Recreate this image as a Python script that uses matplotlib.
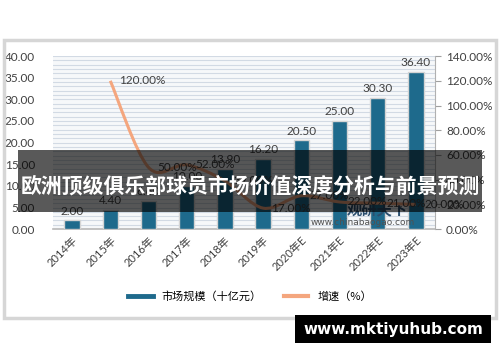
import matplotlib
matplotlib.use("Agg")
import matplotlib.pyplot as plt
import numpy as np
from matplotlib.lines import Line2D
from matplotlib.patches import PathPatch, Rectangle
from matplotlib.path import Path
from matplotlib.ticker import FuncFormatter, MultipleLocator

years = ["2014年", "2015年", "2016年", "2017年", "2018年", "2019年",
         "2020年E", "2021年E", "2022年E", "2023年E"]
market_size = [2.00, 4.40, 6.60, 10.00, 13.90, 16.20, 20.50, 25.00, 30.30, 36.40]
growth_years = years[1:]
growth_pct = [120.0, 50.0, 52.0, 39.0, 17.0, 27.0, 22.0, 21.0, 20.0]

title = "欧洲顶级俱乐部球员市场价值深度分析与前景预测"
site = "www.mktiyuhub.com"
legend_labels = ["市场规模（十亿元）", "增速（%）"]

BAR = "#1e6a8c"
LINE = "#f4a67e"
TXT = "#404040"
NUM_FONT = ["Lato", "Noto Sans CJK SC"]

plt.rcParams["font.family"] = NUM_FONT


def _smooth_path(xs, ys):
    """Excel-style smoothed line as cubic Bezier segments through the points."""
    pts = np.column_stack([xs, ys]).astype(float)
    verts = [pts[0]]
    codes = [Path.MOVETO]
    n = len(pts)
    for i in range(n - 1):
        p0 = pts[i - 1] if i > 0 else pts[i]
        p1, p2 = pts[i], pts[i + 1]
        p3 = pts[i + 2] if i + 2 < n else pts[i + 1]
        verts += [p1 + (p2 - p0) / 6.0, p2 - (p3 - p1) / 6.0, p2]
        codes += [Path.CURVE4] * 3
    return Path(verts, codes)


fig = plt.figure(figsize=(5.0, 3.62), dpi=100)
fig.patch.set_facecolor("white")

# outer grey panel
fig.patches.append(Rectangle((0.008, 0.122), 0.984, 0.768, transform=fig.transFigure,
                             fill=False, edgecolor="#d6d6d6", linewidth=2.5, zorder=0))

ax = fig.add_axes([0.106, 0.367, 0.764, 0.478])
ax.set_facecolor("#f6f8fa")
x = np.arange(len(years))
ax.bar(x, market_size, width=0.4, color=BAR, edgecolor="#d4d4d4",
       linewidth=1.0, zorder=3)
for xi, v in zip(x, market_size):
    ax.text(xi, v + 0.9, f"{v:.2f}", ha="center", va="bottom", fontsize=8.5,
            color=TXT, zorder=5)

ax.set_xlim(-0.5, len(years) - 0.5)
ax.set_ylim(0, 40)
ax.yaxis.set_major_locator(MultipleLocator(5))
ax.yaxis.set_minor_locator(MultipleLocator(1))
ax.yaxis.set_major_formatter(FuncFormatter(lambda v, _: f"{v:.2f}"))
ax.grid(axis="y", which="both", color="#d2dae4", linewidth=0.8, zorder=0)
ax.set_axisbelow(True)
ax.set_xticks(x)
ax.set_xticklabels(years, rotation=45, ha="right", rotation_mode="anchor",
                   fontsize=8, color=TXT)
ax.tick_params(axis="x", length=0, pad=4)
ax.tick_params(axis="y", which="both", length=0, labelsize=8.5, labelcolor=TXT, pad=13)
for s in ("top", "left", "right"):
    ax.spines[s].set_visible(False)
ax.spines["bottom"].set_color("#b8b8b8")
ax.spines["bottom"].set_linewidth(1.2)

ax2 = ax.twinx()
ax2.set_ylim(0, 140)
ax2.yaxis.set_major_locator(MultipleLocator(20))
ax2.yaxis.set_major_formatter(FuncFormatter(lambda v, _: f"{v:.2f}%"))
ax2.tick_params(axis="y", length=4, color="#a0a0a0", labelsize=8.5, labelcolor=TXT, pad=4)
for s in ("top", "left", "bottom"):
    ax2.spines[s].set_visible(False)
ax2.spines["right"].set_color("#b0b0b0")

gx = x[1:]
ax2.add_patch(PathPatch(_smooth_path(gx, growth_pct), fill=False, edgecolor=LINE,
                        linewidth=2.2, zorder=4))
for xi, g in zip(gx, growth_pct):
    ax2.text(xi + 0.22, g, f"{g:.2f}%", ha="left", va="center", fontsize=8.5,
             color=TXT, zorder=5)

# source watermark inside the chart
ax.text(8.0, 4.5, "观研天下", ha="center", va="center", fontsize=11, fontweight="bold",
        color="#2b4f6e", family="Noto Sans CJK SC", zorder=6)
ax.text(7.6, 1.6, "www.chinabaogao.com", ha="center", va="center", fontsize=6.5,
        color="#505050", family="DejaVu Sans", zorder=6)

handles = [Line2D([], [], color=BAR, linewidth=3.5), Line2D([], [], color=LINE, linewidth=3)]
fig.legend(handles, legend_labels, loc="center", bbox_to_anchor=(0.5, 0.182), ncol=2,
           frameon=False, handlelength=2.2, columnspacing=2.0,
           prop={"family": "Noto Sans CJK SC", "size": 8})

# title banner over the chart
fig.patches.append(Rectangle((0.036, 0.414), 0.928, 0.172, transform=fig.transFigure,
                             facecolor="black", alpha=0.65, edgecolor="none", zorder=10))
fig.text(0.5, 0.487, title, ha="center", va="center", fontsize=15, fontweight="bold",
         color="white", family="Noto Sans CJK SC", zorder=11)

# site tag bottom right
fig.patches.append(Rectangle((0.59, 0.052), 0.392, 0.078, transform=fig.transFigure,
                             facecolor="black", edgecolor="none", zorder=10))
fig.text(0.786, 0.091, site, ha="center", va="center", fontsize=11, fontweight="bold",
         color="white", family="DejaVu Sans", zorder=11)

fig.savefig("out.png", dpi=100, facecolor="white")
